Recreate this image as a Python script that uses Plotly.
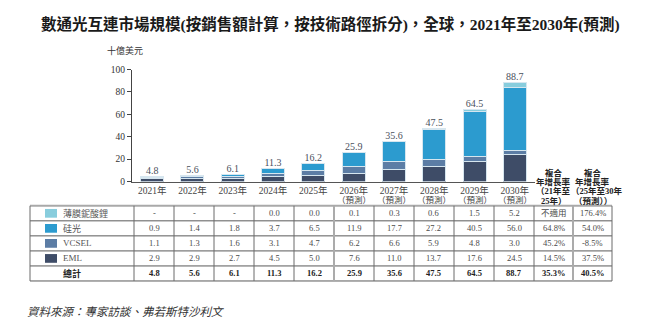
import plotly.graph_objects as go

# ---- data -------------------------------------------------------------
years = ["2021年", "2022年", "2023年", "2024年", "2025年",
         "2026年", "2027年", "2028年", "2029年", "2030年"]
forecast_from = 5  # index of first forecast year (2026)

tfln = [None, None, None, 0.0, 0.0, 0.1, 0.3, 0.6, 1.5, 5.2]   # 薄膜鈮酸鋰
sipho = [0.9, 1.4, 1.8, 3.7, 6.5, 11.9, 17.7, 27.2, 40.5, 56.0]  # 硅光
vcsel = [1.1, 1.3, 1.6, 3.1, 4.7, 6.2, 6.6, 5.9, 4.8, 3.0]
eml = [2.9, 2.9, 2.7, 4.5, 5.0, 7.6, 11.0, 13.7, 17.6, 24.5]
totals = [4.8, 5.6, 6.1, 11.3, 16.2, 25.9, 35.6, 47.5, 64.5, 88.7]

series_names = ["薄膜鈮酸鋰", "硅光", "VCSEL", "EML"]
cagr_21_25 = ["不適用", "64.8%", "45.2%", "14.5%", "35.3%"]
cagr_25_30 = ["176.4%", "54.0%", "-8.5%", "37.5%", "40.5%"]

y_ticks = [0, 20, 40, 60, 80, 100]

colors = {"薄膜鈮酸鋰": "#88CDDD", "硅光": "#2C9BCF",
          "VCSEL": "#5C7DA5", "EML": "#3E4C67"}

# ---- page geometry (pixels) --------------------------------------------
W, H = 658, 334
SERIF = "Liberation Serif, Times New Roman, Noto Sans CJK TC"


def px(x):
    return x / W


def py(y):
    return 1 - y / H


plot_left, plot_right = 132, 535
plot_top, plot_bottom = 66.5, 182

fig = go.Figure()

# stacked bars, bottom to top
for name, vals in [("EML", eml), ("VCSEL", vcsel), ("硅光", sipho), ("薄膜鈮酸鋰", tfln)]:
    fig.add_trace(go.Bar(
        x=years, y=vals, name=name,
        marker=dict(color=colors[name], line=dict(color="#D6E6EF", width=1)),
        width=0.57, hoverinfo="skip",
    ))

# total labels above each stack
fig.add_trace(go.Scatter(
    x=years, y=totals, mode="text",
    text=[f"{v:.1f}" for v in totals], textposition="top center",
    textfont=dict(family=SERIF, size=10, color="#4A4F5C"),
    hoverinfo="skip", cliponaxis=False,
))

fig.update_layout(
    width=W, height=H,
    margin=dict(l=0, r=0, t=0, b=0),
    paper_bgcolor="white", plot_bgcolor="white",
    barmode="stack", showlegend=False,
    font=dict(family=SERIF, color="#333333"),
    xaxis=dict(
        domain=[px(plot_left), px(plot_right)],
        showgrid=False, zeroline=False,
        showline=True, linecolor="#555555", linewidth=1,
        ticks="", tickfont=dict(family=SERIF, size=9.5, color="#444"),
        fixedrange=True,
    ),
    yaxis=dict(
        domain=[py(plot_bottom), py(plot_top)],
        range=[0, 100], tickvals=y_ticks,
        showgrid=False, zeroline=False,
        showline=True, linecolor="#444444", linewidth=1,
        ticks="outside", ticklen=4, tickcolor="#444444",
        tickfont=dict(family=SERIF, size=9.5, color="#333"),
        fixedrange=True,
    ),
)

annotations = []
shapes = []


def note(x, y, text, size=8.5, color="#444", bold=False, xanchor="center", italic=False):
    t = f"<b>{text}</b>" if bold else text
    if italic:
        t = f"<i>{t}</i>"
    annotations.append(dict(
        x=px(x), y=py(y), xref="paper", yref="paper", text=t, showarrow=False,
        xanchor=xanchor, yanchor="middle",
        font=dict(family=SERIF, size=size, color=color),
    ))


# title, unit, source
note(330, 20, "數通光互連市場規模(按銷售額計算，按技術路徑拆分)，全球，2021年至2030年(預測)",
     size=15.5, color="#1A1A1A", bold=True)
note(105, 47, "十億美元", size=9, color="#333", xanchor="left")
note(25, 316, "資料來源：專家訪談、弗若斯特沙利文", size=11.5, color="#333", xanchor="left", italic=True)

# forecast marker under years
for i, yr in enumerate(years):
    if i >= forecast_from:
        annotations.append(dict(
            x=yr, y=py(201), xref="x", yref="paper", text="（預測）", showarrow=False,
            yanchor="middle", font=dict(family=SERIF, size=8.5, color="#444"),
        ))

# ---- table ------------------------------------------------------------
tbl_left = 30
label_right = 134
col_w = 40.0
year_cols = [label_right + i * col_w for i in range(len(years) + 1)]
cagr1_right, tbl_right = 573, 612
col_edges = [tbl_left] + year_cols + [cagr1_right, tbl_right]
row_edges = [207, 222.5, 238, 253.5, 269, 284.5]

# CAGR headers
c1 = (year_cols[-1] + cagr1_right) / 2
c2 = (cagr1_right + tbl_right) / 2
for y, a, b in [(173, "複合", "複合"), (182, "年增長率", "年增長率"),
                (192, "（21年至", "（25年至30年"), (202, "25年）", "（預測））")]:
    note(c1, y, a, size=8.5, color="#222", bold=True)
    note(c2 + 4 if y == 192 else c2, y, b, size=8.5, color="#222", bold=True)

# grid lines
for j, y in enumerate(row_edges):
    shapes.append(dict(type="line", xref="paper", yref="paper",
                       x0=px(tbl_left), x1=px(tbl_right), y0=py(y), y1=py(y),
                       line=dict(color="#A9A9A9" if j == 0 else "#5A5A5A",
                                 width=2 if j == 0 else 1)))
for k, x in enumerate(col_edges):
    thick = x in (year_cols[5], cagr1_right)
    shapes.append(dict(type="line", xref="paper", yref="paper",
                       x0=px(x), x1=px(x), y0=py(row_edges[0]), y1=py(row_edges[-1]),
                       line=dict(color="#ABABAB" if thick else "#6A6A6A",
                                 width=2 if thick else 1)))

row_mid = [(row_edges[r] + row_edges[r + 1]) / 2 for r in range(5)]
series_vals = [tfln, sipho, vcsel, eml]

# legend swatches and series names
for r, name in enumerate(series_names):
    ym = row_mid[r]
    shapes.append(dict(type="rect", xref="paper", yref="paper",
                       x0=px(45), x1=px(57), y0=py(ym + 4.5), y1=py(ym - 4.5),
                       fillcolor=colors[name], line=dict(width=0)))
    note(61, ym, name, size=9, color="#555", xanchor="left")
note(72, row_mid[4], "總計", size=9, color="#222", bold=True)

# values
for r, vals in enumerate(series_vals):
    for i, v in enumerate(vals):
        cx = (year_cols[i] + year_cols[i + 1]) / 2
        note(cx, row_mid[r], "-" if v is None else f"{v:.1f}", size=8.5, color="#4A4A4A")
    note(c1, row_mid[r], cagr_21_25[r], size=8.5, color="#4A4A4A")
    note(c2, row_mid[r], cagr_25_30[r], size=8.5, color="#4A4A4A")
for i, v in enumerate(totals):
    cx = (year_cols[i] + year_cols[i + 1]) / 2
    note(cx, row_mid[4], f"{v:.1f}", size=8.5, color="#222", bold=True)
note(c1, row_mid[4], cagr_21_25[4], size=8.5, color="#222", bold=True)
note(c2, row_mid[4], cagr_25_30[4], size=8.5, color="#222", bold=True)

fig.update_layout(annotations=annotations, shapes=shapes)
fig.write_html("out.html")
